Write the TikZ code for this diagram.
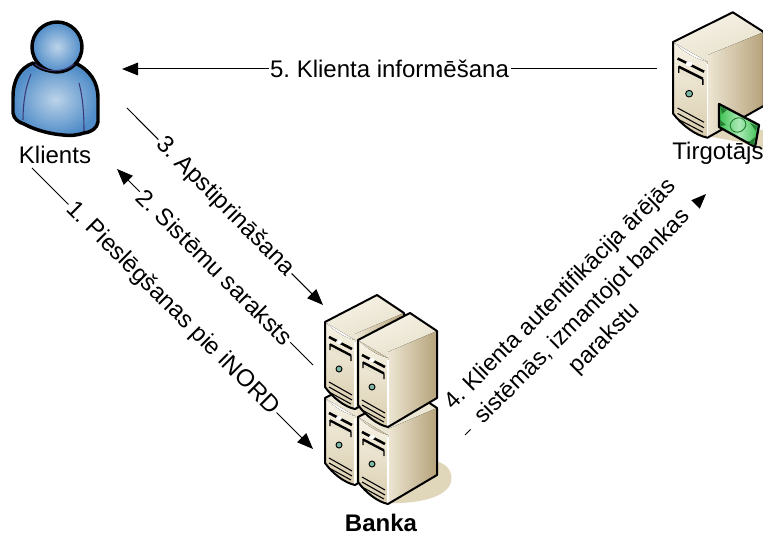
\documentclass[tikz,border=0pt]{standalone}
\usepackage{fontspec}
\setmainfont{Liberation Sans}
\frenchspacing
\usetikzlibrary{arrows.meta}
\definecolor{sa}{HTML}{F7F3E6}
\definecolor{sb}{HTML}{D9CDAE}
\definecolor{sc}{HTML}{EDE6D3}
\definecolor{sd}{HTML}{B5A27A}
\definecolor{se}{HTML}{E6DFCB}
\definecolor{shad}{HTML}{E0D6BA}
\definecolor{teal}{HTML}{7DB8A4}
\definecolor{blueout}{HTML}{4F8CC8}
\definecolor{bluein}{HTML}{BCD3E9}
\definecolor{seam}{HTML}{3B3A78}
\tikzset{
  x=0.75pt,y=-0.75pt,
  txt/.style={font=\fontsize{18pt}{19pt}\selectfont,text=black,inner sep=0pt},
  conn/.style={draw=black,line width=0.75pt,-{Triangle[length=12pt,width=9.5pt]}},
  lab/.style={txt,fill=white,inner sep=1.2pt,sloped,align=center},
  outl/.style={draw=black,line width=1.5pt,line join=round},
  srv/.pic={
    \fill[top color=sa,bottom color=se,shading angle=20] (0,0) -- (52,-27) -- (79,-9) -- (30,18) -- cycle;
    \fill[left color=sc,right color=sd] (30,12) -- (79,-9) -- (79,58) -- (30,87) -- cycle;
    \fill[top color=sa,bottom color=sb] (0,0) .. controls (8,8) and (20,16) .. (30,18) -- (30,87) .. controls (20,85) and (8,76) .. (0,65) -- cycle;
    \draw[white,line width=1.2pt] (30,20) -- (30,86);
    \draw[outl] (0,0) -- (52,-27) -- (79,-9) -- (79,58) -- (30,87) .. controls (20,85) and (8,76) .. (0,65) -- cycle;
    \draw[black,line width=1.9pt] (4,15) -- (27,27);
    \fill[white] (14,20) ellipse (3 and 2.2);
    \fill[sb!60] (5,23) -- (26,34) -- (26,39) -- (5,28) -- cycle;
    \draw[black,line width=1pt] (5,28) -- (5,23) -- (26,34) -- (26,39);
    \draw[black,line width=1.2pt] (5,22) -- (26,33);
    \draw[black,fill=teal,line width=0.7pt] (14,47) circle (3);
    \draw[black,line width=0.8pt] (4,60) -- (27,73) (4,65) -- (27,78) (4,70) -- (26,82);
  }
}
\begin{document}
\begin{tikzpicture}
\useasboundingbox (0,0) rectangle (763,534);
% person
\path[outl,line width=2.6pt,draw=black,shading=radial,inner color=bluein,outer color=blueout]
  (33,63) .. controls (20,68) and (13,80) .. (13,97) -- (13,113)
  .. controls (14,119) and (18,122) .. (24,124)
  .. controls (35,130) and (50,134) .. (63,135)
  .. controls (72,136) and (78,135) .. (84,133)
  .. controls (92,132) and (97,128) .. (98,122) -- (98,98)
  .. controls (98,82) and (90,70) .. (75,63)
  .. controls (65,74) and (45,74) .. (33,63) -- cycle;
\path[outl,line width=2.6pt,draw=black,shading=radial,inner color=bluein,outer color=blueout] (57,47) circle (25);
\draw[seam,line width=0.8pt] (35,64) .. controls (45,73) and (65,73) .. (74,64);
\draw[seam,line width=0.8pt] (31,74) .. controls (25,88) and (23,105) .. (23,120);
\draw[seam,line width=0.8pt] (79,83) .. controls (83,98) and (84,115) .. (84,131);
\node[txt] (klients) at (55,155) {Klients};
% shadow and bank servers
\fill[shad] (430,460) .. controls (448,462) and (453,472) .. (451,482) .. controls (447,497) and (420,504) .. (388,503) -- cycle;
\pic at (325,398) {srv};
\pic at (325,322) {srv};
\pic at (358,417) {srv};
\pic at (358,340) {srv};
\node[txt,font=\fontsize{18pt}{19pt}\selectfont\bfseries] (banka) at (381,523) {Banka};
% merchant
\begin{scope}
\clip (660,0) rectangle (763,160);
\fill[shad] (706,136) -- (722,126) -- (763,130) -- (763,150) -- (740,142) -- cycle;
\pic[xscale=1.15,yscale=1.1] at (673,42) {srv};
\path[draw=black,line width=1.7pt,line join=round,left color=green!45!teal!90!black,right color=green!45!teal!90!black,middle color=green!25!white!70!teal]
  (719,104) -- (759,125) -- (755,147) -- (719,127) -- cycle;
\fill[green!40!black!70!teal] (720,106) -- (727,110) -- (722,114) -- cycle (754,145) -- (748,143) -- (755,137) -- cycle (720,126) -- (726,125) -- (720,120) -- cycle (757,126) -- (750,123) -- (756,131) -- cycle;
\draw[green!40!black!70!teal,line width=0.7pt,rotate around={25:(738,125)}] (738,125) ellipse (8 and 7);
\end{scope}
\node[txt] (tirgotajs) at (718,153) {Tirgotājs};
% connector ends
\coordinate (e5a) at (657,69);  \coordinate (e5b) at (122,69);
\coordinate (e1a) at (32,168);  \coordinate (e1b) at (313,449);
\coordinate (e2a) at (313,365); \coordinate (e2b) at (117,169);
\coordinate (e3a) at (127,108); \coordinate (e3b) at (323,305);
\coordinate (e4a) at (465,435); \coordinate (e4b) at (706,194);
\draw[conn] (e5a) -- node[lab] (l5) {5. Klienta informēšana} (e5b);
\draw[conn] (e1a) -- node[lab] (l1) {1. Pieslēgšanas pie iNORD} (e1b);
\draw[conn] (e2a) -- node[lab] (l2) {2. Sistēmu saraksts} (e2b);
\draw[conn] (e3a) -- node[lab] (l3) {3. Apstiprināšana} (e3b);
\draw[conn] (e4a) -- node[lab,pos=0.49,font=\fontsize{17.5pt}{23.5pt}\selectfont,inner sep=1pt] (l4) {4. Klienta autentifikācija ārējās\\sistēmās, izmantojot bankas\\parakstu} (e4b);
\end{tikzpicture}
\end{document}
